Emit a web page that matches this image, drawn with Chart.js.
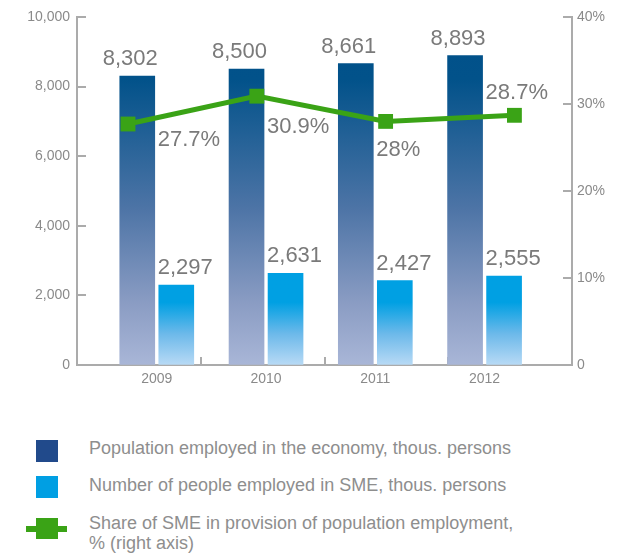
<!DOCTYPE html>
<html>
<head>
<meta charset="utf-8">
<script src="https://cdn.jsdelivr.net/npm/chart.js@4/dist/chart.umd.min.js"></script>
<style>
  body { margin: 0; background: #fff; font-family: "Liberation Sans", Arial, sans-serif; }
  #wrap { position: relative; width: 620px; height: 553px; overflow: hidden; }
  #chartBox { position: absolute; left: 0; top: 0; width: 620px; height: 400px; }
  .swatch { position: absolute; left: 36px; width: 22px; height: 22px; }
  .text { position: absolute; left: 89px; color: #8e8e8e; font-size: 18px; line-height: 20px; white-space: nowrap; }
  .lineKey { position: absolute; left: 26px; top: 526px; width: 41px; height: 6px; background: #3aa316; }
</style>
</head>
<body>
<div id="wrap">
  <div id="chartBox"><canvas id="chart"></canvas></div>
  <div class="swatch" style="top:440px;background:#214a8b"></div>
  <div class="text" style="top:438px">Population employed in the economy, thous. persons</div>
  <div class="swatch" style="top:476px;background:#009fe3"></div>
  <div class="text" style="top:475px">Number of people employed in SME, thous. persons</div>
  <div class="lineKey"></div>
  <div class="swatch" style="top:518px;height:21px;background:#3aa316"></div>
  <div class="text" style="top:513px">Share of SME in provision of population employment,<br>% (right axis)</div>
</div>
<script>
const years = ['2009', '2010', '2011', '2012'];
const employedTotal = [8302, 8500, 8661, 8893];
const employedSME = [2297, 2631, 2427, 2555];
const smeShare = [27.7, 30.9, 28.0, 28.7];
const leftTicks = [0, 2000, 4000, 6000, 8000, 10000];
const rightTicks = [0, 10, 20, 30, 40];

const GREEN = '#3aa316';
const TICK_COLOR = '#8a8a8a';
const AXIS_COLOR = '#ababab';

// year axis range, and the half-slot shift that puts each bar beside the year centre
const X_MIN = -0.73, X_MAX = 3.8, HALF_SLOT = 0.1785;

function darkFill(c) {
  const area = c.chart.chartArea;
  if (!area) return '#2a5f97';
  const g = c.chart.ctx.createLinearGradient(0, area.top, 0, area.bottom);
  g.addColorStop(0, '#00508a');
  g.addColorStop(0.18, '#02528a');
  g.addColorStop(0.55, '#4d74a6');
  g.addColorStop(0.82, '#8a9cc3');
  g.addColorStop(1, '#a9b6d7');
  return g;
}

function lightFill(c) {
  const area = c.chart.chartArea;
  if (!area) return '#009fe3';
  const g = c.chart.ctx.createLinearGradient(0, area.top, 0, area.bottom);
  g.addColorStop(0, '#009fe3');
  g.addColorStop(0.82, '#00a0e3');
  g.addColorStop(0.91, '#6cb9ea');
  g.addColorStop(1, '#b8daf5');
  return g;
}

// ticks point inward, plus value labels
const decorations = {
  id: 'decorations',
  beforeDatasetsDraw(chart) {
    const {ctx, chartArea, scales} = chart;
    ctx.save();
    ctx.strokeStyle = AXIS_COLOR;
    ctx.lineWidth = 2;
    ctx.beginPath();
    leftTicks.forEach(v => {
      const y = Math.round(scales.y.getPixelForValue(v));
      ctx.moveTo(chartArea.left, y);
      ctx.lineTo(chartArea.left + 9, y);
    });
    rightTicks.forEach(v => {
      const y = Math.round(scales.y2.getPixelForValue(v));
      ctx.moveTo(chartArea.right - 9, y);
      ctx.lineTo(chartArea.right, y);
    });
    for (let k = 1; k < years.length; k++) {
      const x = Math.round(chartArea.left + k * (chartArea.right - chartArea.left) / years.length);
      ctx.moveTo(x, chartArea.bottom);
      ctx.lineTo(x, chartArea.bottom - 8);
    }
    ctx.stroke();
    ctx.restore();
  },
  afterDatasetsDraw(chart) {
    const {ctx, scales} = chart;
    const fmt = v => v.toLocaleString('en-US');
    ctx.save();
    ctx.font = '22px "Liberation Sans", Arial, sans-serif';
    ctx.fillStyle = '#7a7a7a';
    ctx.textBaseline = 'alphabetic';
    const dark = chart.getDatasetMeta(0).data;
    const light = chart.getDatasetMeta(1).data;
    const pts = chart.getDatasetMeta(2).data;
    const shareDy = [22, 37, 35, -16];
    years.forEach((yr, i) => {
      const cx = scales.x.getPixelForValue(i);
      ctx.textAlign = 'right';
      ctx.fillText(fmt(employedTotal[i]), cx + 1, dark[i].y - 11);
      ctx.textAlign = 'left';
      ctx.fillText(fmt(employedSME[i]), cx + 1, light[i].y - 11);
      ctx.fillText(smeShare[i] + '%', cx + 1, pts[i].y + shareDy[i]);
    });
    ctx.restore();
  }
};

const barStyle = {barThickness: 35, grouped: false, order: 2};

new Chart(document.getElementById('chart'), {
  type: 'bar',
  data: {
    datasets: [
      {
        label: 'Population employed in the economy, thous. persons',
        data: years.map((_, i) => ({x: i, y: employedTotal[i]})),
        xAxisID: 'xDark',
        backgroundColor: darkFill,
        ...barStyle
      },
      {
        label: 'Number of people employed in SME, thous. persons',
        data: years.map((_, i) => ({x: i, y: employedSME[i]})),
        xAxisID: 'xLight',
        backgroundColor: lightFill,
        ...barStyle
      },
      {
        type: 'line',
        label: 'Share of SME in provision of population employment, % (right axis)',
        data: years.map((_, i) => ({x: i, y: smeShare[i]})),
        xAxisID: 'x2',
        yAxisID: 'y2',
        borderColor: GREEN,
        backgroundColor: GREEN,
        borderWidth: 5,
        pointStyle: 'rect',
        pointRadius: 10.5,
        pointBorderWidth: 0,
        pointBackgroundColor: GREEN,
        tension: 0,
        order: 0
      }
    ]
  },
  options: {
    responsive: true,
    maintainAspectRatio: false,
    animation: false,
    layout: {padding: {top: 17, left: 0, right: 0, bottom: 0}},
    plugins: {legend: {display: false}, tooltip: {enabled: false}},
    scales: {
      x: {
        type: 'linear',
        offset: false,
        min: X_MIN,
        max: X_MAX,
        afterBuildTicks: axis => { axis.ticks = years.map((_, i) => ({value: i})); },
        afterFit: axis => { axis.height = 35; },
        grid: {display: true, drawOnChartArea: false, drawTicks: false, offset: false},
        border: {display: true, color: AXIS_COLOR, width: 2},
        ticks: {color: TICK_COLOR, font: {size: 14, family: '"Liberation Sans", Arial'}, padding: 6, callback: v => years[v]}
      },
      xDark: {type: 'linear', display: false, offset: false, min: X_MIN + HALF_SLOT, max: X_MAX + HALF_SLOT},
      xLight: {type: 'linear', display: false, offset: false, min: X_MIN - HALF_SLOT, max: X_MAX - HALF_SLOT},
      x2: {type: 'linear', display: false, offset: false, min: -0.396, max: 3.447},
      y: {
        position: 'left',
        min: 0,
        max: 10000,
        afterBuildTicks: axis => { axis.ticks = leftTicks.map(v => ({value: v})); },
        afterFit: axis => { axis.width = 77; },
        grid: {display: true, drawOnChartArea: false, drawTicks: false},
        border: {display: true, color: AXIS_COLOR, width: 2},
        ticks: {color: TICK_COLOR, font: {size: 14, family: '"Liberation Sans", Arial'}, padding: 7, callback: v => v.toLocaleString('en-US')}
      },
      y2: {
        position: 'right',
        min: 0,
        max: 40,
        afterBuildTicks: axis => { axis.ticks = rightTicks.map(v => ({value: v})); },
        afterFit: axis => { axis.width = 48; },
        grid: {display: true, drawOnChartArea: false, drawTicks: false},
        border: {display: true, color: AXIS_COLOR, width: 2},
        ticks: {color: TICK_COLOR, font: {size: 14, family: '"Liberation Sans", Arial'}, padding: 5, callback: v => v === 0 ? '0' : v + '%'}
      }
    }
  },
  plugins: [decorations]
});
</script>
</body>
</html>
